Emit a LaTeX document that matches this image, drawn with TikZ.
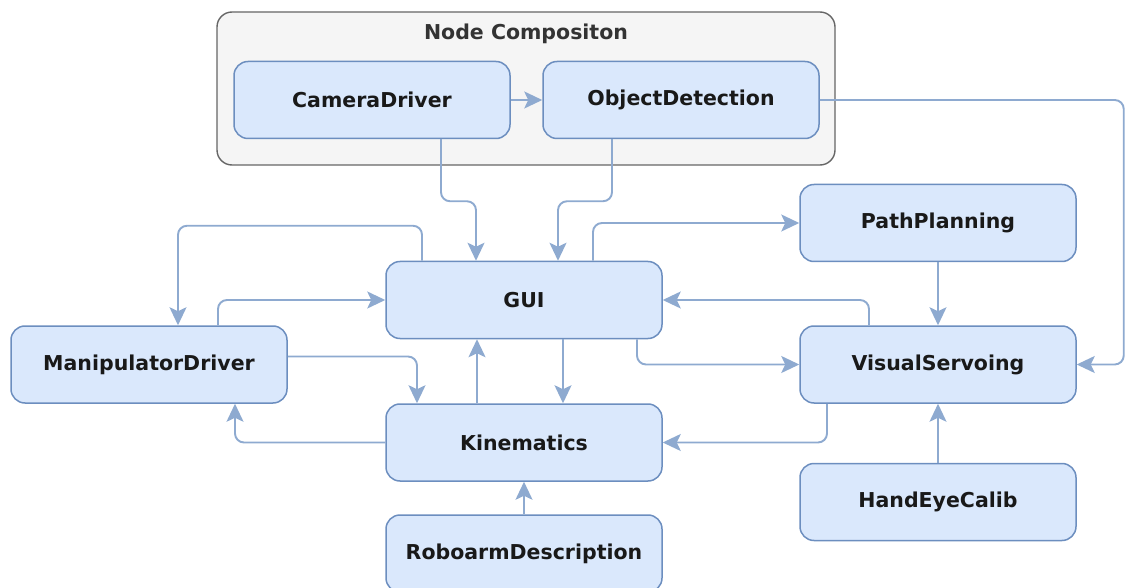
\documentclass[tikz,border=0pt]{standalone}
\usepackage{fontspec}
\setmainfont{DejaVu Sans}
\usetikzlibrary{arrows.meta}
\definecolor{boxfill}{HTML}{DAE8FC}
\definecolor{boxline}{HTML}{6C8EBF}
\definecolor{wire}{HTML}{8EAAD0}
\definecolor{groupfill}{HTML}{F5F5F5}
\definecolor{groupline}{HTML}{666666}
\definecolor{titletext}{HTML}{333333}
\tikzset{
  compbox/.style={rectangle, rounded corners=14pt, draw=boxline, fill=boxfill,
    line width=1.5pt, minimum width=276pt, minimum height=77pt,
    font=\fontsize{20.5}{24}\selectfont\bfseries, text=black!90},
  groupbox/.style={rectangle, rounded corners=15pt, draw=groupline, fill=groupfill,
    line width=1.4pt, minimum width=618pt, minimum height=153pt},
  grouptitle/.style={font=\fontsize{20.5}{24}\selectfont\bfseries, text=titletext},
  conn/.style={draw=wire, line width=1.9pt, rounded corners=9pt,
    -{Stealth[length=18pt,width=17pt,inset=4pt]}},
}
\begin{document}
\begin{tikzpicture}[x=1pt, y=-1pt]
\useasboundingbox (0,0) rectangle (1125,588);
\clip (0,0) rectangle (1125,588);

% node composition group
\node[groupbox] (comp) at (526,88.5) {};
\node[grouptitle] (comptitle) at (526,34) {Node Compositon};

% components
\node[compbox] (cam)  at (372,100) {CameraDriver};
\node[compbox] (obj)  at (681,100) {ObjectDetection};
\node[compbox] (gui)  at (524,300) {GUI};
\node[compbox] (path) at (938,223) {PathPlanning};
\node[compbox] (vs)   at (938,364.5) {VisualServoing};
\node[compbox] (man)  at (149,364.5) {ManipulatorDriver};
\node[compbox] (kin)  at (524,442.5) {Kinematics};
\node[compbox] (robo) at (524,553.5) {RoboarmDescription};
\node[compbox] (hand) at (938,502) {HandEyeCalib};

% data flow
\draw[conn] (cam.east) -- (obj.west);
\draw[conn] ([xshift=69pt]cam.south) -- ++(0,62) -| ([xshift=-48pt]gui.north);
\draw[conn] ([xshift=-69pt]obj.south) -- ++(0,62) -| ([xshift=34pt]gui.north);
\draw[conn] (obj.east) -- ++(304,0) |- (vs.east);
\draw[conn] ([xshift=-102pt]gui.north) -- ++(0,-35) -| ([xshift=29pt]man.north);
\draw[conn] ([xshift=69pt]man.north) |- (gui.west);
\draw[conn] ([yshift=8pt]man.east) -| ([xshift=-107pt]kin.north);
\draw[conn] (kin.west) -| ([xshift=86pt]man.south);
\draw[conn] ([xshift=-47pt]kin.north) -- ([xshift=-47pt]gui.south);
\draw[conn] ([xshift=39pt]gui.south) -- ([xshift=39pt]kin.north);
\draw[conn] ([xshift=113pt]gui.south) |- (vs.west);
\draw[conn] ([xshift=69pt]gui.north) |- (path.west);
\draw[conn] ([xshift=-69pt]vs.north) |- (gui.east);
\draw[conn] (path.south) -- (vs.north);
\draw[conn] (hand.north) -- (vs.south);
\draw[conn] ([xshift=-111pt]vs.south) |- (kin.east);
\draw[conn] (robo.north) -- (kin.south);
\end{tikzpicture}
\end{document}
